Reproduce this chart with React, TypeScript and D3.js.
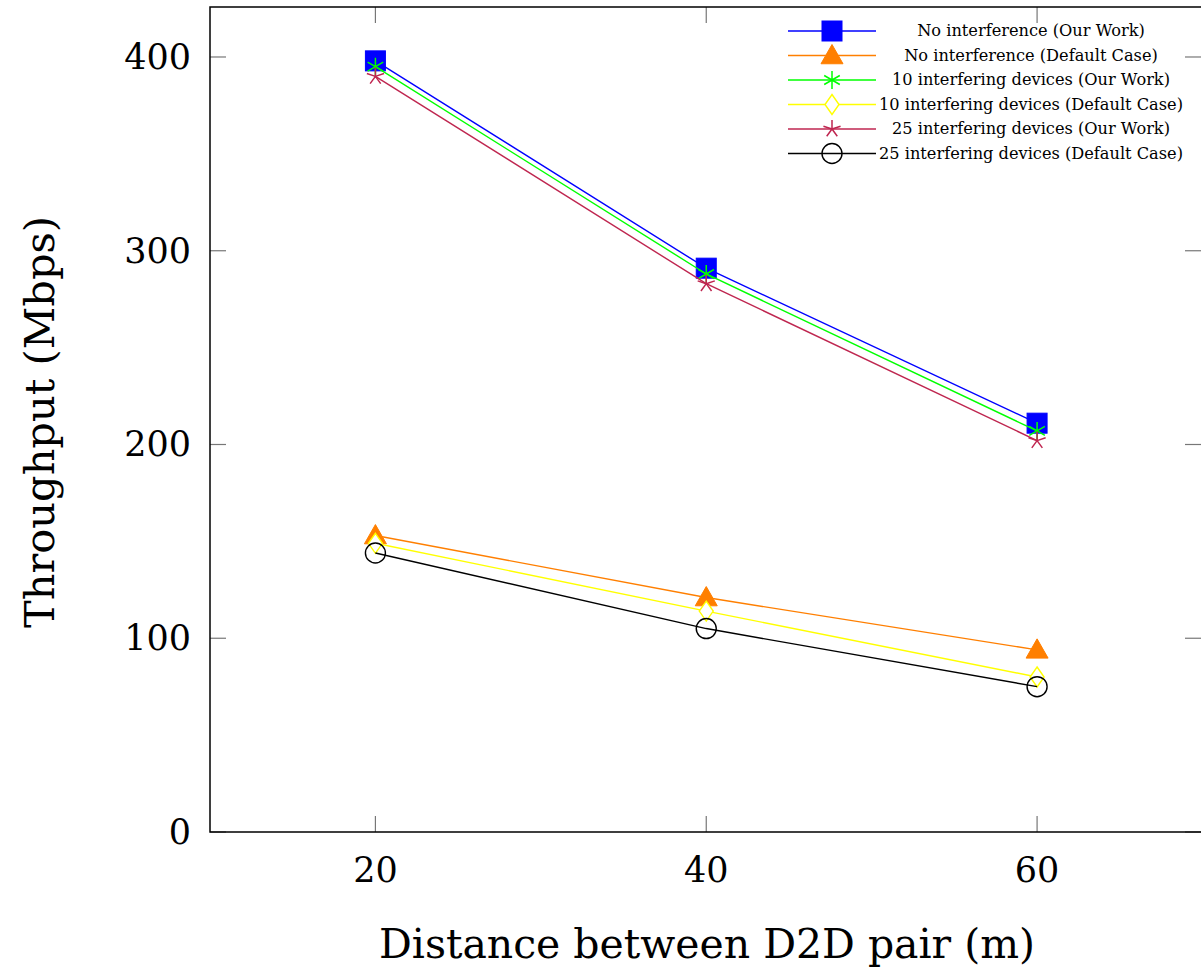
import React from "react";
import * as d3 from "d3";

const distances = [20, 40, 60];
const noIntOur = [398, 291, 211];
const noIntDef = [153, 121, 94];
const int10Our = [395, 288, 207];
const int10Def = [149, 114, 80];
const int25Our = [390, 283, 202];
const int25Def = [144, 105, 75];
const yTicks = [0, 100, 200, 300, 400];

type S = { name: string; values: number[]; color: string; marker: string };
const series: S[] = [
  { name: "No interference (Our Work)", values: noIntOur, color: "#0000ff", marker: "square" },
  { name: "No interference (Default Case)", values: noIntDef, color: "#ff7f00", marker: "triangle" },
  { name: "10 interfering devices (Our Work)", values: int10Our, color: "#00ff00", marker: "asterisk" },
  { name: "10 interfering devices (Default Case)", values: int10Def, color: "#ffff00", marker: "diamond" },
  { name: "25 interfering devices (Our Work)", values: int25Our, color: "#bf2650", marker: "star" },
  { name: "25 interfering devices (Default Case)", values: int25Def, color: "#000000", marker: "circle" },
];

const W = 1201, H = 970;
const L = 210, R = 1202.5, T = 7, B = 832;
const x = d3.scaleLinear().domain([10, 70]).range([L, R]);
const y = d3.scaleLinear().domain([0, 425.8]).range([B, T]);
const FONT = "'DejaVu Serif', 'Liberation Serif', serif";

function Marker({ kind, cx, cy, color }: { kind: string; cx: number; cy: number; color: string }) {
  if (kind === "square") return <rect x={cx - 10} y={cy - 10} width={20} height={20} fill={color} stroke={color} strokeWidth={1} />;
  if (kind === "triangle") {
    const s = 11;
    return <path d={`M${cx},${cy - s}L${cx + s},${cy + s * 0.75}L${cx - s},${cy + s * 0.75}Z`} fill={color} stroke={color} strokeWidth={1} />;
  }
  if (kind === "diamond") return <path d={`M${cx},${cy - 10}L${cx + 7},${cy}L${cx},${cy + 10}L${cx - 7},${cy}Z`} fill="white" stroke={color} strokeWidth={1.4} />;
  if (kind === "circle") return <circle cx={cx} cy={cy} r={10} fill="none" stroke={color} strokeWidth={1.4} />;
  if (kind === "asterisk" || kind === "star") {
    const r = 9;
    const d = kind === "asterisk"
      ? [0, 60, 120].map((a) => {
          const rad = ((a + 90) * Math.PI) / 180;
          return `M${cx - r * Math.cos(rad)},${cy - r * Math.sin(rad)}L${cx + r * Math.cos(rad)},${cy + r * Math.sin(rad)}`;
        }).join("")
      : [90, 162, 234, 306, 18].map((a) => {
          const rad = (a * Math.PI) / 180;
          return `M${cx},${cy}L${cx + r * Math.cos(rad)},${cy - r * Math.sin(rad)}`;
        }).join("");
    return <path d={d} stroke={color} strokeWidth={1.5} fill="none" />;
  }
  return null;
}

export default function App() {
  const line = d3.line<[number, number]>().x((d) => x(d[0])).y((d) => y(d[1]));
  const legX1 = 788, legX2 = 876, legTextX = 1031;
  const legY = (i: number) => 31 + i * 24.5;
  return (
    <svg width={W} height={H} style={{ position: "absolute", left: 0, top: 0, background: "white" }} fontFamily={FONT}>
      <rect width={W} height={H} fill="white" />
      {yTicks.map((t) => (
        <g key={t}>
          <line x1={L} x2={L + 16} y1={y(t)} y2={y(t)} stroke="#777" strokeWidth={1.2} />
          <line x1={1185} x2={1201} y1={y(t)} y2={y(t)} stroke="#777" strokeWidth={1.2} />
          <text x={191} y={y(t) + 12} textAnchor="end" fontSize={35}>{t}</text>
        </g>
      ))}
      {distances.map((d) => (
        <g key={d}>
          <line x1={x(d)} x2={x(d)} y1={B} y2={B - 16} stroke="#777" strokeWidth={1.2} />
          <line x1={x(d)} x2={x(d)} y1={T} y2={T + 16} stroke="#777" strokeWidth={1.2} />
          <text x={x(d)} y={882} textAnchor="middle" fontSize={35}>{d}</text>
        </g>
      ))}
      <path d={`M${R},${T}L${L},${T}L${L},${B}L${R},${B}`} fill="none" stroke="black" strokeWidth={1.5} />
      {series.map((s) => (
        <g key={s.name}>
          <path d={line(distances.map((d, i) => [d, s.values[i]] as [number, number])) || ""} fill="none" stroke={s.color} strokeWidth={1.4} />
          {distances.map((d, i) => (
            <Marker key={d} kind={s.marker} cx={x(d)} cy={y(s.values[i])} color={s.color} />
          ))}
        </g>
      ))}
      {series.map((s, i) => (
        <g key={s.name}>
          <line x1={legX1} x2={legX2} y1={legY(i)} y2={legY(i)} stroke={s.color} strokeWidth={1.4} />
          <Marker kind={s.marker} cx={(legX1 + legX2) / 2} cy={legY(i)} color={s.color} />
          <text x={legTextX} y={legY(i) + 5} textAnchor="middle" fontSize={16.2}>{s.name}</text>
        </g>
      ))}
      <text x={707} y={958} textAnchor="middle" fontSize={41} textLength={656} lengthAdjust="spacingAndGlyphs">Distance between D2D pair (m)</text>
      <text transform={`translate(54,422) rotate(-90)`} textAnchor="middle" fontSize={41} textLength={412} lengthAdjust="spacingAndGlyphs">Throughput (Mbps)</text>
    </svg>
  );
}
